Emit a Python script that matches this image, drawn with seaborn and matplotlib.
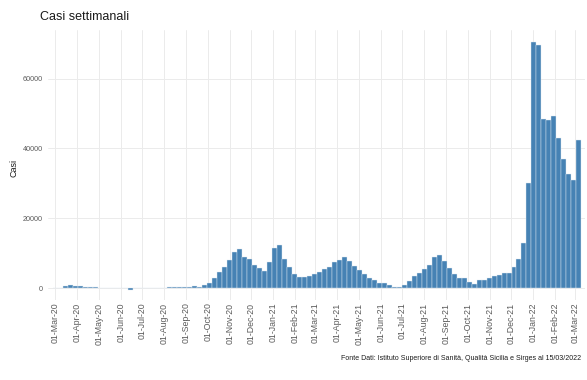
import pandas as pd
import matplotlib
matplotlib.use("Agg")
import matplotlib.pyplot as plt
import matplotlib.dates as mdates
import matplotlib.ticker as mticker
import seaborn as sns

# Weekly cases (week centred on Sunday)
cases_2020 = [30, 200, 550, 800, 650,
              550, 450, 350, 250,
              150, 100, 80, 50,
              30, 20, -500, 20, 30,
              40, 50, 80, 120,
              180, 250, 300, 250, 350,
              450, 550, 500, 850,
              1600, 2850, 4700, 6200,
              8100, 10500, 11300, 9000, 8500,
              6600, 5900, 4950, 7600]
cases_2021 = [11600, 12400, 8500, 6200,
              4000, 3300, 3300, 3500,
              4000, 4700, 5400, 6200, 7600,
              8100, 9000, 7800, 6400,
              5200, 4000, 2850, 2300, 1600,
              1600, 950, 400, 400,
              950, 2100, 3500, 4300,
              5600, 6600, 9000, 9600, 7800,
              5700, 4000, 3000, 3000,
              1800, 1100, 2300, 2300,
              3000, 3400, 3700, 4500, 4500,
              6200, 8500, 13100, 30000]
cases_2022 = [70400, 69500, 48500, 48200, 49400, 43100, 36900, 32600, 31000, 42300]

cases = cases_2020 + cases_2021 + cases_2022
weeks = pd.date_range("2020-03-01", periods=len(cases), freq="7D")
month_ticks = pd.date_range("2020-03-01", "2022-03-01", freq="MS")
y_ticks = [0, 20000, 40000, 60000]

df = pd.DataFrame({"settimana": mdates.date2num(weeks), "casi": cases})

sns.set_theme(style="whitegrid")
plt.rcParams["font.family"] = ["Liberation Sans", "DejaVu Sans"]

fig, ax = plt.subplots(figsize=(5.87, 3.80), dpi=100)
fig.subplots_adjust(left=0.082, right=0.997, top=0.921, bottom=0.211)

sns.barplot(data=df, x="settimana", y="casi", native_scale=True, width=1,
            color="#4682B4", saturation=1, edgecolor="#dfe8f1", linewidth=0.3,
            errorbar=None, ax=ax)

ax.set_xlim(mdates.date2num(pd.Timestamp("2020-02-20")),
            mdates.date2num(pd.Timestamp("2022-03-15")))
ax.set_ylim(-3300, 73900)
ax.set_xticks(mdates.date2num(month_ticks))
ax.xaxis.set_major_formatter(mdates.DateFormatter("%d-%b-%y"))
ax.set_yticks(y_ticks)
ax.yaxis.set_major_formatter(mticker.StrMethodFormatter("{x:.0f}"))
ax.tick_params(axis="x", labelsize=6.3, labelrotation=90, colors="#5a5a5a", length=0, pad=2)
ax.tick_params(axis="y", labelsize=5.2, colors="#5a5a5a", length=0, pad=4)
ax.grid(True, color="#EBEBEB", linewidth=0.7)
ax.set_axisbelow(True)
for s in ax.spines.values():
    s.set_visible(False)
ax.set_xlabel("")
ax.set_ylabel("")

fig.text(40 / 587, 1 - 17 / 380, "Casi settimanali", fontsize=9, ha="left", va="center", color="#1a1a1a")
fig.text(14 / 587, 1 - 168 / 380, "Casi", fontsize=6.5, rotation=90, ha="center", va="center", color="#1a1a1a")
fig.text(581 / 587, 1 - 358 / 380,
         "Fonte Dati: Istituto Superiore di Sanità, Qualità Sicilia e Sirges al 15/03/2022",
         fontsize=5, ha="right", va="center", color="#1a1a1a")

fig.savefig("out.png", dpi=100)
